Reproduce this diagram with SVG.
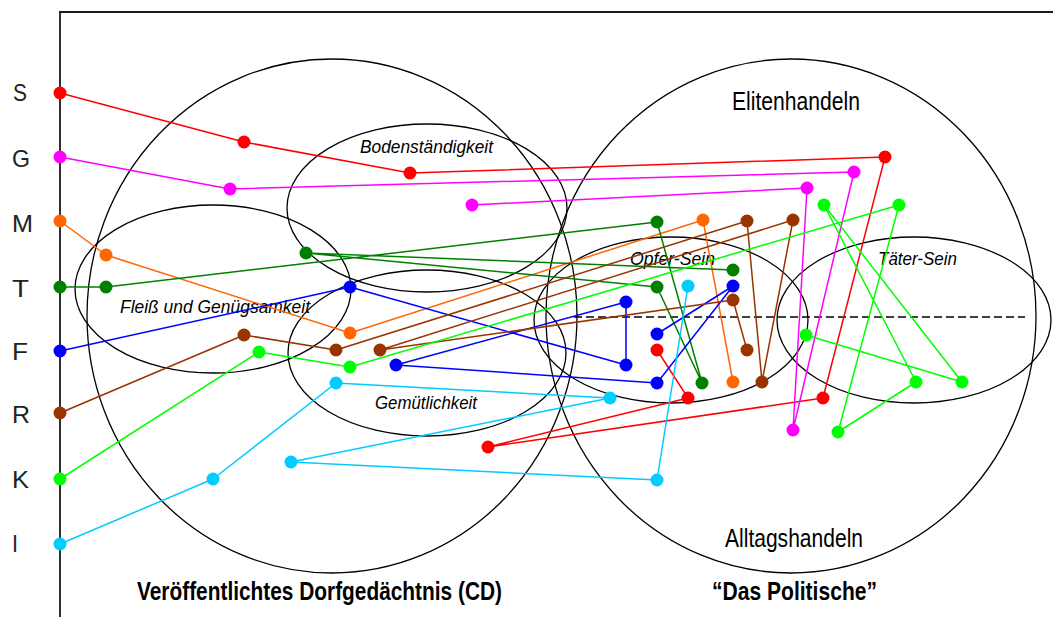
<svg xmlns="http://www.w3.org/2000/svg" width="1053" height="617" viewBox="0 0 1053 617">
<style>
.frame{fill:none;stroke:#1a1a1a;stroke-width:1.8}
.reg{fill:none;stroke:#000;stroke-width:1.3}
.dash{fill:none;stroke:#000;stroke-width:1.5;stroke-dasharray:8 4}
.lbl{font-family:"Liberation Sans",Arial,sans-serif;fill:#000}
.it{font-family:"Liberation Sans",Arial,sans-serif;font-style:italic;font-size:18px;fill:#000}
.big{font-family:"Liberation Sans",Arial,sans-serif;font-size:26px;fill:#000}
.ttl{font-family:"Liberation Sans",Arial,sans-serif;font-weight:bold;font-size:25px;fill:#000}
.ax{font-family:"Liberation Sans",Arial,sans-serif;font-size:24px;fill:#222}
.c{fill:none;stroke-width:1.5;stroke-linejoin:round}
.red{stroke:#ff0000}.mag{stroke:#ff00ff}.ora{stroke:#ff6600}.dgr{stroke:#007f00}.blu{stroke:#0000ff}.bro{stroke:#993300}.grn{stroke:#00ff00}.cya{stroke:#00ccff}
.dred{fill:#ff0000}.dmag{fill:#ff00ff}.dora{fill:#ff6600}.ddgr{fill:#007f00}.dblu{fill:#0000ff}.dbro{fill:#993300}.dgrn{fill:#00ff00}.dcya{fill:#00ccff}
</style>
<defs>
<circle id="d" r="6.5"/>
</defs>
<g id="axes">
<line class="frame" x1="60" y1="12" x2="60" y2="617"/>
<line class="frame" x1="59" y1="12" x2="1053" y2="12"/>
<text class="ax" x="13" y="101" textLength="14" lengthAdjust="spacingAndGlyphs">S</text>
<text class="ax" x="12" y="167" textLength="18" lengthAdjust="spacingAndGlyphs">G</text>
<text class="ax" x="12" y="232" textLength="21" lengthAdjust="spacingAndGlyphs">M</text>
<text class="ax" x="12" y="297" textLength="17" lengthAdjust="spacingAndGlyphs">T</text>
<text class="ax" x="12" y="360" textLength="16" lengthAdjust="spacingAndGlyphs">F</text>
<text class="ax" x="12" y="423" textLength="18" lengthAdjust="spacingAndGlyphs">R</text>
<text class="ax" x="12" y="488" textLength="17" lengthAdjust="spacingAndGlyphs">K</text>
<text class="ax" x="12" y="552" textLength="6" lengthAdjust="spacingAndGlyphs">I</text>
</g>
<g id="dorfgedaechtnis">
<ellipse class="reg" cx="332" cy="316" rx="245" ry="257"/>
<text class="ttl" x="137" y="600" textLength="365" lengthAdjust="spacingAndGlyphs">Veröffentlichtes Dorfgedächtnis (CD)</text>
</g>
<g id="das-politische">
<ellipse class="reg" cx="791" cy="316" rx="245" ry="257"/>
<text class="big" x="732" y="110" textLength="128" lengthAdjust="spacingAndGlyphs">Elitenhandeln</text>
<text class="big" x="725" y="547" textLength="138" lengthAdjust="spacingAndGlyphs">Alltagshandeln</text>
<text class="ttl" x="712" y="600" textLength="165" lengthAdjust="spacingAndGlyphs">“Das Politische”</text>
</g>
<g id="bodenstaendigkeit">
<ellipse class="reg" cx="427" cy="208" rx="140" ry="84"/>
<text class="it" x="360" y="153" textLength="133" lengthAdjust="spacingAndGlyphs">Bodenständigkeit</text>
</g>
<g id="fleiss">
<ellipse class="reg" cx="213" cy="289" rx="138" ry="84"/>
<text class="it" x="120" y="313" textLength="190" lengthAdjust="spacingAndGlyphs">Fleiß und Genügsamkeit</text>
</g>
<g id="gemuetlichkeit">
<ellipse class="reg" cx="427" cy="353" rx="139" ry="83"/>
<text class="it" x="375" y="409" textLength="102" lengthAdjust="spacingAndGlyphs">Gemütlichkeit</text>
</g>
<g id="opfer-sein">
<ellipse class="reg" cx="671" cy="320" rx="137" ry="83"/>
<text class="it" x="630" y="265" textLength="85" lengthAdjust="spacingAndGlyphs">Opfer-Sein</text>
</g>
<g id="taeter-sein">
<ellipse class="reg" cx="914" cy="320" rx="137" ry="83"/>
<text class="it" x="878" y="265" textLength="79" lengthAdjust="spacingAndGlyphs">Täter-Sein</text>
</g>
<g id="divider">
<line class="dash" x1="574" y1="317" x2="1025" y2="317"/>
</g>
<g id="connectors">
<polyline class="c red" points="60,93 244,142 410,173 885,157 823,398 488,447 688,398 657,350"/>
<polyline class="c mag" points="60,157 230,189 854,172 793,430 807,188 472,205"/>
<polyline class="c ora" points="60,221 106,255 350,333 703,220 733,382"/>
<polyline class="c dgr" points="60,287 106,287 657,222 702,383 657,287 306,253 733,270"/>
<polyline class="c blu" points="60,351 350,287 626,365 626,302 396,365 657,383 733,286 657,334"/>
<polyline class="c bro" points="60,413 244,335 336,350 747,221 762,382 793,220 380,350 733,300 747,350"/>
<polyline class="c grn" points="60,479 259,352 350,367 899,205 838,432 916,382 824,205 962,382 806,335"/>
<polyline class="c cya" points="60,544 213,479 336,383 610,398 291,462 657,480 688,286"/>
</g>
<g id="nodes-S" class="dred">
<use href="#d" x="60" y="93"/><use href="#d" x="244" y="142"/><use href="#d" x="410" y="173"/><use href="#d" x="885" y="157"/><use href="#d" x="823" y="398"/><use href="#d" x="488" y="447"/><use href="#d" x="688" y="398"/><use href="#d" x="657" y="350"/>
</g>
<g id="nodes-G" class="dmag">
<use href="#d" x="60" y="157"/><use href="#d" x="230" y="189"/><use href="#d" x="854" y="172"/><use href="#d" x="793" y="430"/><use href="#d" x="807" y="188"/><use href="#d" x="472" y="205"/>
</g>
<g id="nodes-M" class="dora">
<use href="#d" x="60" y="221"/><use href="#d" x="106" y="255"/><use href="#d" x="350" y="333"/><use href="#d" x="703" y="220"/><use href="#d" x="733" y="382"/>
</g>
<g id="nodes-T" class="ddgr">
<use href="#d" x="60" y="287"/><use href="#d" x="106" y="287"/><use href="#d" x="657" y="222"/><use href="#d" x="702" y="383"/><use href="#d" x="657" y="287"/><use href="#d" x="306" y="253"/><use href="#d" x="733" y="270"/>
</g>
<g id="nodes-F" class="dblu">
<use href="#d" x="60" y="351"/><use href="#d" x="350" y="287"/><use href="#d" x="626" y="365"/><use href="#d" x="626" y="302"/><use href="#d" x="396" y="365"/><use href="#d" x="657" y="383"/><use href="#d" x="733" y="286"/><use href="#d" x="657" y="334"/>
</g>
<g id="nodes-R" class="dbro">
<use href="#d" x="60" y="413"/><use href="#d" x="244" y="335"/><use href="#d" x="336" y="350"/><use href="#d" x="747" y="221"/><use href="#d" x="762" y="382"/><use href="#d" x="793" y="220"/><use href="#d" x="380" y="350"/><use href="#d" x="733" y="300"/><use href="#d" x="747" y="350"/>
</g>
<g id="nodes-K" class="dgrn">
<use href="#d" x="60" y="479"/><use href="#d" x="259" y="352"/><use href="#d" x="350" y="367"/><use href="#d" x="899" y="205"/><use href="#d" x="838" y="432"/><use href="#d" x="916" y="382"/><use href="#d" x="824" y="205"/><use href="#d" x="962" y="382"/><use href="#d" x="806" y="335"/>
</g>
<g id="nodes-I" class="dcya">
<use href="#d" x="60" y="544"/><use href="#d" x="213" y="479"/><use href="#d" x="336" y="383"/><use href="#d" x="610" y="398"/><use href="#d" x="291" y="462"/><use href="#d" x="657" y="480"/><use href="#d" x="688" y="286"/>
</g>
</svg>
